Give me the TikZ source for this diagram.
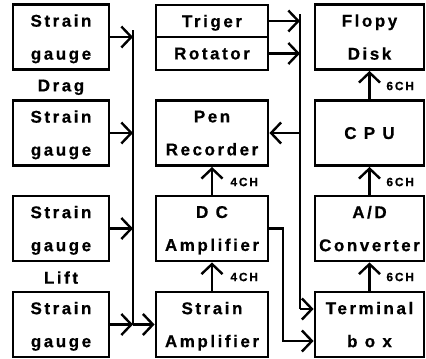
\documentclass[tikz,border=0pt]{standalone}
\usepackage{fontspec}
\setmainfont{Liberation Sans}
\newfontfamily\spacedfont[LetterSpace=15, FakeBold=0.6]{Liberation Sans}
\newfontfamily\chanfont[LetterSpace=15, FakeBold=0.6]{Liberation Sans}
\usetikzlibrary{arrows.meta, positioning, calc}
\tikzset{
  every picture/.style={line width=2.8pt},
  box/.style={draw, rectangle, align=center, inner sep=0pt, minimum height=65pt, minimum width=#1,
    text depth=0pt, font=\spacedfont\bfseries\fontsize{17}{33}\selectfont},
  box/.default=112pt,
  arrow/.style={-{Straight Barb[length=10pt, width=21pt, line width=2.4pt]}},
  note/.style={text depth=0pt, inner sep=0pt, font=\spacedfont\bfseries\fontsize{17}{20}\selectfont},
  chan/.style={font=\chanfont\bfseries\fontsize{12}{14}\selectfont, anchor=west, inner sep=0pt},
}

\begin{document}
\begin{tikzpicture}[x=1pt, y=-1pt]
  \useasboundingbox (0,0) rectangle (426,359);
  % strain gauges
  \node[box=96pt] (sg1) at (61,37) {Strain\\gauge};
  \node[box=96pt] (sg2) at (61,133) {Strain\\gauge};
  \node[box=96pt] (sg3) at (61,228.5) {Strain\\gauge};
  \node[box=96pt] (sg4) at (61,324.5) {Strain\\gauge};
  \node[note] (drag) at (61,85.5) {Drag};
  \node[note] (lift) at (61,277.5) {Lift};
  % middle column
  \node[box, minimum height=32pt] (trig) at (212,21) {Triger};
  \node[box, minimum height=33pt] (rot) at (212,53.5) {Rotator};
  \node[box] (pen) at (212,133) {Pen\\Recorder};
  \node[box] (dc) at (212,228.5) {D C\\Amplifier};
  \node[box] (sa) at (212,324.5) {Strain\\Amplifier};
  % right column
  \node[box=109pt] (disk) at (369.5,37) {Flopy\\Disk};
  \node[box=109pt] (cpu) at (369.5,133) {C P U};
  \node[box=109pt] (adc) at (369.5,228.5) {A/D\\Converter};
  \node[box=109pt] (term) at (369.5,324.5) {Terminal\\b o x};
  % channel labels
  \node[chan] (ch1) at (229,182) {4CH};
  \node[chan] (ch2) at (229,277) {4CH};
  \node[chan] (ch3) at (385,86) {6CH};
  \node[chan] (ch4) at (385,182) {6CH};
  \node[chan] (ch5) at (385,277) {6CH};
  % bus lines
  \coordinate (bltop) at (133,30);
  \coordinate (bl1) at (133,37);
  \coordinate (bl2) at (133,133);
  \coordinate (bl3) at (133,228.5);
  \coordinate (bl4) at (133,324.5);
  \coordinate (brtop) at (300,14);
  \coordinate (br1) at (300,21);
  \coordinate (br2) at (300,53.5);
  \coordinate (br3) at (300,133);
  \coordinate (br4) at (300,309);
  \coordinate (dcturn) at (283,341);
  \draw[arrow] (sg1.east) -- (bl1);
  \draw[arrow] (sg2.east) -- (bl2);
  \draw[arrow] (sg3.east) -- (bl3);
  \draw[arrow] (sg4.east) -- (bl4);
  \draw (bltop) -- (bl4);
  \draw[arrow] (bl4) -- (sa.west);
  \draw[arrow] (trig.east) -- (br1);
  \draw[arrow] (rot.east) -- (br2);
  \draw (brtop) -- (br4);
  \draw[arrow] (br3) -- (pen.east);
  \draw[arrow] (br4) -- (br4 -| term.west);
  \draw[arrow] (dc.east) -| (dcturn) -- (dcturn -| term.west);
  \draw[arrow] (sa.north) -- (dc.south);
  \draw[arrow] (dc.north) -- (pen.south);
  \draw[arrow] (term.north) -- (adc.south);
  \draw[arrow] (adc.north) -- (cpu.south);
  \draw[arrow] (cpu.north) -- (disk.south);
\end{tikzpicture}
\end{document}
